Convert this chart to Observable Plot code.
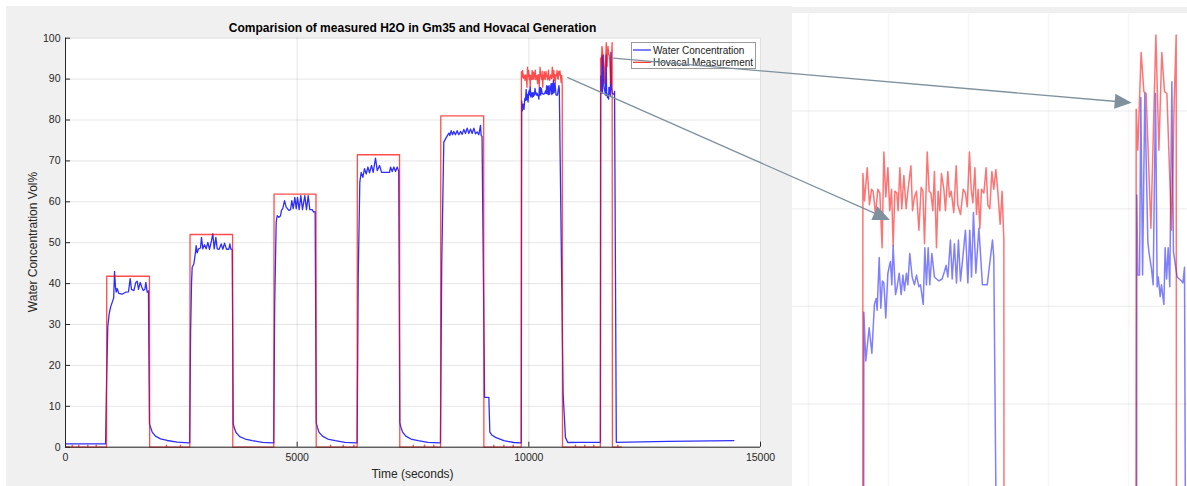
<!DOCTYPE html>
<html><head><meta charset="utf-8">
<script src="https://cdn.jsdelivr.net/npm/d3@7"></script>
<script src="https://cdn.jsdelivr.net/npm/@observablehq/plot@0.6"></script>
<style>
html,body{margin:0;padding:0;background:#fff;}
#root{position:relative;width:1187px;height:486px;overflow:hidden;font-family:"Liberation Sans",Arial,Helvetica,sans-serif;}
#fig{position:absolute;left:6px;top:6px;width:786px;height:480px;background:#f0f0f0;}
#band{position:absolute;left:792px;top:7px;width:395px;height:6px;background:#efefef;}
</style></head><body><div id="root"><div id="fig"></div><div id="band"></div></div>
<script>
// ---------- data ----------
const waterTime = [0,150,400,650,865,890,913,945,975,1022,1040,1058,1079,1094,1115,1151,1220,1295,1360,1396,1424,1475,1518,1547,1576,1612,1648,1677,1713,1734,1763,1790,
1812,1835,1871,1942,2050,2195,2410,2662,
2680,2700,2720,2734,2770,2806,2820,2842,2871,2914,2935,2964,3000,3036,3072,3108,3151,3180,3209,3245,3274,3317,3360,3396,3432,3475,3525,3547,3568,3598,
3620,3640,3680,3760,3880,4030,4250,4480,
4494,4515,4547,4569,4605,4641,4662,4691,4727,4763,4821,4857,4885,4914,4950,4979,5007,5043,5079,5115,5165,5201,5238,5273,5324,5353,5388,
5412,5435,5470,5545,5660,5820,6030,6280,
6294,6318,6352,6382,6418,6453,6490,6526,6562,6605,6641,6691,6728,6778,6821,6908,6994,7015,7051,7087,7123,7159,7192,
7215,7238,7275,7345,7455,7610,7820,8075,
8092,8120,8165,8223,8273,8295,8324,8353,8381,8417,8453,8489,8525,8561,8597,8633,8669,8705,8741,8777,8813,8849,8885,8921,8957,8971,8990,
9045,9137,9158,9200,9281,9461,9676,9820,
9837,9846,9858,9879,9896,9912,9923,9929,9942,9952,9962,9971,9983,9996,10012,10021,10029,10044,10054,10067,10079,10090,10100,10112,10121,10133,10148,10162,10175,10190,10200,10217,10227,10237,10248,10258,10271,10287,10315,10335,10350,10360,10371,10387,10398,10412,10425,10437,10450,10481,10496,10508,10519,10531,10546,10565,10587,10617,10650,10658,
10740,10790,10840,11100,11400,11546,
11552,11558,11569,11577,11588,11602,11621,11629,11644,11654,11669,11679,11686,11698,11706,11721,11729,11738,11748,11758,11771,11781,11804,11831,11840,11850,
11888,13000,14424];
const waterVol = [0.8,0.8,0.8,0.8,0.8,18.0,29.5,32.8,34.3,35.9,36.5,43.0,39.1,37.9,38.8,37.6,37.4,37.9,38.0,41.2,38.6,38.3,40.3,40.6,38.6,40.3,39.1,38.3,38.6,40.3,37.9,38.2,
5.7,4.9,3.7,2.7,2.05,1.64,1.22,1.07,
1.07,28.0,40.0,44.0,44.8,47.7,49.3,47.5,48.5,48.7,51.3,48.5,49.5,48.5,50.1,48.4,50.5,52.2,48.5,51.3,48.5,48.4,49.7,48.4,49.9,48.4,48.4,49.7,48.5,48.3,
5.8,4.8,3.6,2.6,2.0,1.6,1.2,1.05,
1.05,35.0,55.0,56.6,56.2,56.6,57.9,58.4,60.3,58.7,57.9,58.1,60.3,58.3,61.1,58.3,61.1,58.1,61.5,58.1,61.5,58.1,61.5,58.1,58.1,57.5,57.6,
6.0,4.9,3.7,2.7,2.0,1.6,1.2,1.05,
1.05,42.0,64.8,67.2,66.0,68.1,66.8,68.5,67.1,68.9,67.2,70.7,67.6,68.9,67.2,67.2,67.2,68.5,67.4,68.5,67.4,68.5,67.5,
6.0,4.9,3.7,2.7,2.0,1.6,1.2,1.05,
1.05,45.0,74.6,75.8,76.8,76.2,77.4,76.4,77.2,76.4,77.4,76.4,77.2,76.5,77.7,76.7,78.0,76.7,77.8,76.7,78.0,76.6,77.1,76.4,78.7,76.2,76.0,
12.2,12.2,3.7,3.0,2.4,1.6,1.15,1.05,
1.05,84.7,82.2,83.9,82.6,85.1,85.4,84.8,87.5,84.9,86.3,86.2,84.4,86.7,87.3,86.1,88.1,85.6,86.0,86.7,85.6,86.6,85.8,86.7,86.1,87.7,86.5,86.1,86.6,86.0,86.1,85.1,88.0,86.1,88.0,86.1,87.7,86.5,86.3,86.4,86.8,87.1,86.5,88.4,86.4,88.2,86.2,88.4,86.3,88.9,86.2,88.9,86.5,89.8,86.7,89.0,86.1,86.1,88.4,87.5,
13.0,2.4,1.15,1.2,1.2,1.2,
90.7,86.6,86.6,95.7,86.6,95.9,88.3,87.7,86.9,86.1,95.9,86.0,86.5,85.5,86.1,85.1,88.0,86.4,88.0,86.0,96.5,87.8,86.5,86.3,86.2,87.0,
1.2,1.4,1.6];

const hovacalTime = [0,140,145,150,282,287,292,476,481,486,658,663,668,885,
890,1812,1817,2175,2180,2185,2477,2482,2487,2683,
2688,3606,3611,4496,
4501,5406,5411,5715,5720,5725,5988,5993,5998,6218,6223,6228,6294,
6299,7210,7215,7499,7504,7509,7743,7748,7753,7944,7949,7954,8095,
8100,9025,9030,9240,9245,9250,9456,9461,9466,9657,9662,9667,9835,
9840,9850,9867,9881,9894,9904,9919,9933,9946,9960,9971,9983,9996,10008,10019,10029,10040,10052,10060,10071,10083,10096,10110,10121,10140,10150,10162,10175,10190,10204,10215,10225,10242,10254,10265,10277,10287,10300,10310,10321,10331,10346,10356,10371,10381,10392,10408,10423,10433,10450,10467,10481,10492,10506,10517,10527,10540,10550,10560,10571,10581,10596,10610,10621,10633,10646,10658,10671,10683,10698,10710,10721,
10726,11002,11007,11012,11203,11208,11213,11397,11402,11407,11543,
11548,11558,11579,11596,11610,11640,11671,11690,11708,11725,11740,11769,11785,11798,
11804,11916,11921,11926,12000];
const hovacalVol = [0,0,0.5,0,0,0.5,0,0,0.5,0,0,0.5,0,0,
41.8,41.8,0,0,0.5,0,0,0.5,0,0,
52.0,52.0,0,0,
61.9,61.9,0,0,0.5,0,0,0.5,0,0,0.5,0,0,
71.5,71.5,0,0,0.5,0,0,0.5,0,0,0.5,0,0,
81.0,81.0,0,0,0.5,0,0,0.5,0,0,0.5,0,0,
91.8,90.4,92.1,90.2,91.0,90.9,89.7,91.0,90.8,88.0,92.9,90.6,92.1,89.9,91.0,88.1,90.9,90.8,89.9,92.1,90.0,91.7,90.0,90.9,92.2,89.9,90.6,90.9,88.9,91.1,90.9,88.2,92.9,90.9,90.8,89.9,91.9,88.0,90.9,89.9,91.8,91.0,89.9,91.9,90.6,90.9,89.8,92.2,90.2,89.7,91.0,90.8,90.1,92.9,91.0,90.3,92.1,89.7,91.0,89.0,91.0,90.8,92.1,90.2,90.0,91.9,91.0,92.0,90.9,89.2,90.9,88.4,
0,0,0.5,0,0,0.5,0,0,0.5,0,0,
95.1,93.0,98.0,96.0,95.9,89.0,98.9,93.0,98.0,96.0,95.9,88.9,95.3,98.9,
0,0,0.5,0,0];

const xTicks = [0, 5000, 10000, 15000];
const yTicks = [0, 10, 20, 30, 40, 50, 60, 70, 80, 90, 100];
const zoomXGrid = [9500, 10000, 10500, 11000, 11500];
const zoomYGrid = [80, 85, 90, 95];
const zoomXDomain = [9400, 11868.75];
const zoomYDomain = [75.77, 100];
// arrows: start in main-chart data coords, end in zoom-panel data coords
const arrowFrom = [[11830, 95.0], [10841, 90.3]];
const arrowTo = [[11523, 95.4], [10012, 89.4]];
const seriesNames = ["Water Concentration", "Hovacal Measurement"];
const seriesColors = ["#0000ff", "#ff0000"];
const titleText = "Comparision of measured H2O in Gm35 and Hovacal Generation";
const xLabel = "Time (seconds)";
const yLabel = "Water Concentration Vol%";

// ---------- build ----------
const FONT = '"Liberation Sans", Arial, Helvetica, sans-serif';
const water = waterTime.map((t, i) => ({t, v: waterVol[i]}));
const hovacal = hovacalTime.map((t, i) => ({t, v: hovacalVol[i]}));
const root = document.getElementById("root");

const MAIN = {left: 6, top: 6, width: 786, height: 480, ml: 59, mr: 32, mt: 31.7, mb: 39.3};
const frameW = MAIN.width - MAIN.ml - MAIN.mr;
const frameH = MAIN.height - MAIN.mt - MAIN.mb;

const mainPlot = Plot.plot({
  width: MAIN.width, height: MAIN.height,
  marginLeft: MAIN.ml, marginRight: MAIN.mr, marginTop: MAIN.mt, marginBottom: MAIN.mb,
  style: {background: "transparent", fontFamily: FONT, fontSize: "10.5px", color: "#262626", overflow: "visible"},
  x: {domain: [0, 15000], ticks: xTicks, tickFormat: d => String(d), tickSize: 0, tickPadding: 6, label: null},
  y: {domain: [0, 100], ticks: yTicks, tickFormat: d => String(d), tickSize: 0, tickPadding: 5, label: null},
  marks: [
    Plot.frame({fill: "white", stroke: "none"}),
    Plot.gridX(xTicks, {stroke: "#262626", strokeOpacity: 0.12}),
    Plot.gridY(yTicks, {stroke: "#262626", strokeOpacity: 0.12}),
    Plot.line(water, {x: "t", y: "v", stroke: seriesColors[0], strokeWidth: 1.3, strokeOpacity: 0.82}),
    Plot.line(hovacal, {x: "t", y: "v", stroke: seriesColors[1], strokeWidth: 1.3, strokeOpacity: 0.7}),
    Plot.ruleX([0], {stroke: "#262626", strokeWidth: 1}),
    Plot.ruleY([0], {stroke: "#262626", strokeWidth: 1}),
    Plot.tickX(xTicks, {x: d => d, stroke: "#262626", insetTop: frameH - 5}),
    Plot.tickY(yTicks, {y: d => d, stroke: "#262626", insetRight: frameW - 5})
  ]
});
Object.assign(mainPlot.style, {position: "absolute", left: MAIN.left + "px", top: MAIN.top + "px"});
root.appendChild(mainPlot);

const ZOOM = {left: 792, top: 13, width: 395, height: 473};
const zoomPlot = Plot.plot({
  width: ZOOM.width, height: ZOOM.height, margin: 0,
  style: {background: "white", overflow: "hidden"},
  x: {domain: zoomXDomain, axis: null},
  y: {domain: zoomYDomain, axis: null},
  marks: [
    Plot.gridX(zoomXGrid, {stroke: "#262626", strokeOpacity: 0.04, strokeWidth: 1.5}),
    Plot.gridY(zoomYGrid, {stroke: "#262626", strokeOpacity: 0.06, strokeWidth: 1.5}),
    Plot.line(water, {x: "t", y: "v", stroke: seriesColors[0], strokeWidth: 1.5, strokeOpacity: 0.5, clip: true}),
    Plot.line(hovacal, {x: "t", y: "v", stroke: seriesColors[1], strokeWidth: 1.5, strokeOpacity: 0.55, clip: true})
  ]
});
Object.assign(zoomPlot.style, {position: "absolute", left: ZOOM.left + "px", top: ZOOM.top + "px"});
root.appendChild(zoomPlot);

// ---------- overlay: title, labels, legend, arrows ----------
const svg = d3.create("svg").attr("width", 1187).attr("height", 486)
  .style("position", "absolute").style("left", "0").style("top", "0")
  .style("font-family", FONT).style("pointer-events", "none");

const fx0 = MAIN.left + MAIN.ml, fx1 = MAIN.left + MAIN.width - MAIN.mr;
const fcx = (fx0 + fx1) / 2;
svg.append("text").attr("x", fcx).attr("y", 28).attr("text-anchor", "middle")
  .attr("dominant-baseline", "central").attr("font-weight", "bold").attr("font-size", 12)
  .attr("fill", "#000").text(titleText);
svg.append("text").attr("x", fcx).attr("y", 474).attr("text-anchor", "middle")
  .attr("dominant-baseline", "central").attr("font-size", 12).attr("fill", "#262626").text(xLabel);
svg.append("text").attr("transform", "translate(33,242) rotate(-90)").attr("text-anchor", "middle")
  .attr("dominant-baseline", "central").attr("font-size", 12).attr("fill", "#262626").text(yLabel);

// legend
const lg = svg.append("g");
lg.append("rect").attr("x", 631.5).attr("y", 42.5).attr("width", 124).attr("height", 26)
  .attr("fill", "white").attr("stroke", "#9a9a9a").attr("stroke-width", 1);
seriesNames.forEach((name, i) => {
  const y = 50 + i * 12.3;
  lg.append("line").attr("x1", 633).attr("x2", 651).attr("y1", y).attr("y2", y)
    .attr("stroke", seriesColors[i]).attr("stroke-width", 1.2).attr("stroke-opacity", 0.85);
  lg.append("text").attr("x", 653).attr("y", y).attr("dominant-baseline", "central")
    .attr("font-size", 10).attr("fill", "#1a1a1a").text(name);
});

// arrows
const mx = mainPlot.scale("x"), my = mainPlot.scale("y");
const zx = zoomPlot.scale("x"), zy = zoomPlot.scale("y");
const ARROW = "#7f919d";
arrowFrom.forEach((src, i) => {
  const dst = arrowTo[i];
  const x1 = mx.apply(src[0]) + MAIN.left, y1 = my.apply(src[1]) + MAIN.top;
  const x2 = zx.apply(dst[0]) + ZOOM.left, y2 = zy.apply(dst[1]) + ZOOM.top;
  const dx = x2 - x1, dy = y2 - y1, len = Math.hypot(dx, dy);
  const ux = dx / len, uy = dy / len;
  const hl = 17, hw = 7.5;
  const bx = x2 - ux * hl, by = y2 - uy * hl;
  svg.append("line").attr("x1", x1).attr("y1", y1).attr("x2", bx + ux * 2).attr("y2", by + uy * 2)
    .attr("stroke", ARROW).attr("stroke-width", 1.3);
  svg.append("path").attr("d", `M${x2},${y2}L${bx - uy * hw},${by + ux * hw}L${bx + uy * hw},${by - ux * hw}Z`)
    .attr("fill", ARROW);
});
root.appendChild(svg.node());
</script></body></html>
